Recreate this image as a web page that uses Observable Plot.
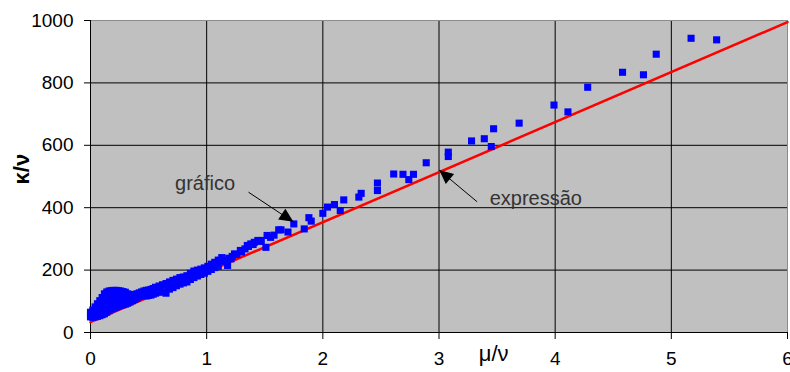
<!DOCTYPE html>
<html><head><meta charset="utf-8">
<script src="https://cdn.jsdelivr.net/npm/d3@7"></script>
<script src="https://cdn.jsdelivr.net/npm/@observablehq/plot@0.6"></script>
<style>body{margin:0;background:#fff} svg{display:block}</style>
</head><body><div id="chart"></div>
<script>
// upper edge of the dense band
const muUpper = [0.00,0.02,0.04,0.06,0.08,0.10,0.12,0.14,0.16,0.18,0.20,0.22,0.24,0.26,0.28,0.30,0.32,0.34,0.36,0.38,0.40,0.42,0.44,0.46,0.48,0.50,0.52,0.54,0.56,0.59,0.62,0.65,0.68,0.71,0.74,0.77,0.80,0.83,0.86,0.89,0.92,0.95,0.98,1.01,1.04,1.07,1.10];
const kappaUpper = [65,72,82,92,102,112,124,130,133,134,135,135,134,133,131,129,124,120,121,122,124,127,130,133,135,136,138,141,145,149,153,157,162,167,171,176,178,182,190,197,200,203,207,212,219,225,232];
// lower edge of the dense band
const muLower = [0.00,0.02,0.04,0.06,0.08,0.10,0.12,0.14,0.16,0.18,0.20,0.22,0.24,0.26,0.28,0.30,0.32,0.34,0.36,0.38,0.40,0.42,0.44,0.46,0.48,0.50,0.52,0.54,0.56,0.59,0.62,0.65,0.68,0.71,0.74,0.77,0.80,0.83,0.86,0.89,0.92,0.95,0.98,1.01,1.04,1.07,1.10];
const kappaLower = [50,49,50,52,54,57,60,65,70,75,78,81,84,87,89,91,94,98,102,106,110,115,118,120,117,119,120,123,126,129,131,126,139,144,150,155,159,162,170,176,181,186,190,196,202,208,212];
// inner points of the hump
const muMid = [0.00,0.03,0.06,0.09,0.12,0.15,0.18,0.21,0.24,0.27,0.30,0.33,0.06,0.09,0.12,0.15,0.18,0.21,0.24,0.27,0.30,0.33,0.04,0.07,0.10,0.13,0.16,0.19,0.22,0.25,0.28,0.31];
const kappaMid = [57,62,64,70,76,84,90,95,100,103,106,108,80,92,104,115,120,122,121,119,117,112,70,80,90,98,104,107,109,110,111,110];
// sparser points
const muSparse = [1.13,1.15,1.16,1.18,1.19,1.21,1.22,1.24,1.26,1.29,1.30,1.33,1.35,1.36,1.38,1.40,1.41,1.44,1.46,1.47,1.51,1.52,1.55,1.58,1.62,1.64,1.70,1.75,1.84,1.88,1.90,2.00,2.04,2.10,2.15,2.18,2.31,2.33,2.47,2.47,2.61,2.69,2.74,2.78,2.89,3.08,3.08,3.28,3.39,3.45,3.47,3.69,3.99,4.11,4.28,4.58,4.76,4.87,5.17,5.39];
const kappaSparse = [240,231,228,215,238,236,244,252,250,263,258,268,279,276,284,282,289,295,292,295,273,311,305,312,329,329,322,348,332,368,357,382,402,410,391,425,434,446,479,455,508,507,490,507,544,578,564,614,621,596,653,671,729,707,786,834,826,892,943,938];
// theoretical expression (red line)
const lineMu = [0, 6];
const lineKappa = [33, 995];
const xTicks = [0, 1, 2, 3, 4, 5, 6];
const yTicks = [0, 200, 400, 600, 800, 1000];
const noteLabels = ["gráfico", "expressão"];
const noteX = [0.728, 3.436];
const noteY = [478, 428];
const arrowX1 = [1.363, 3.325], arrowY1 = [449, 420];
const arrowX2 = [1.751, 3.006], arrowY2 = [353, 519];
const xLabel = "μ/ν", yLabel = "κ/ν";

const toPts = (ms, ks) => ms.map((m, i) => ({mu: m, kappa: ks[i]}));
const points = [
  ...toPts(muUpper, kappaUpper), ...toPts(muLower, kappaLower),
  ...toPts(muMid, kappaMid), ...toPts(muSparse, kappaSparse)
];
const redLine = toPts(lineMu, lineKappa);
const notes = noteLabels.map((t, i) => ({t, x: noteX[i], y: noteY[i]}));
const arrows = arrowX1.map((v, i) => ({x1: v, y1: arrowY1[i], x2: arrowX2[i], y2: arrowY2[i]}));

const plot = Plot.plot({
  width: 790, height: 372,
  marginLeft: 90, marginRight: 3, marginTop: 20, marginBottom: 40,
  x: {domain: [0, 6]}, y: {domain: [0, 1000]},
  style: {fontFamily: "'Liberation Sans', Arial, sans-serif", background: "#fff", color: "#000"},
  marks: [
    Plot.frame({fill: "#c0c0c0"}),
    Plot.ruleX(xTicks.slice(1, -1), {stroke: "#000", strokeWidth: 1}),
    Plot.ruleY(yTicks.slice(1, -1), {stroke: "#000", strokeWidth: 1}),
    Plot.frame({stroke: "#8c8c8c"}),
    Plot.ruleX([0], {stroke: "#000"}),
    Plot.ruleY([0], {stroke: "#000"}),
    Plot.axisY({ticks: yTicks, tickSize: 6, tickPadding: 11, fontSize: 19, label: null, tickFormat: d3.format("d")}),
    Plot.axisX({ticks: xTicks, tickSize: 7, tickPadding: 12, fontSize: 19, label: null, tickFormat: d3.format("d")}),
    Plot.line(redLine, {x: "mu", y: "kappa", stroke: "#ff0000", strokeWidth: 2.5}),
    Plot.dot(points, {x: "mu", y: "kappa", symbol: "square", r: 4, fill: "#0000ff"}),
    Plot.arrow(arrows, {x1: "x1", y1: "y1", x2: "x2", y2: "y2", stroke: "#000", strokeWidth: 1, headLength: 0}),
    Plot.text(notes, {x: "x", y: "y", text: "t", textAnchor: "start", fontSize: 20, fill: "#333"}),
    Plot.text([xLabel], {x: [3.47], frameAnchor: "bottom", dy: 28, text: d => d, fontSize: 22, fill: "#000"}),
    Plot.text([yLabel], {frameAnchor: "left", dx: -69, dy: 8, rotate: -90, text: d => d, fontSize: 22, fontWeight: "bold", fill: "#000"})
  ]
});
document.getElementById("chart").appendChild(plot);

// filled arrowheads positioned through the plot's own scales
const sx = plot.scale("x"), sy = plot.scale("y");
const svg = d3.select(plot);
arrows.forEach(a => {
  const ax = sx.apply(a.x1), ay = sy.apply(a.y1), bx = sx.apply(a.x2), by = sy.apply(a.y2);
  const ang = Math.atan2(by - ay, bx - ax), L = 14, W = 6.5;
  const cx = bx - L * Math.cos(ang), cy = by - L * Math.sin(ang);
  const px = -Math.sin(ang) * W, py = Math.cos(ang) * W;
  svg.append("polygon")
    .attr("points", `${bx},${by} ${cx + px},${cy + py} ${cx - px},${cy - py}`)
    .attr("fill", "#000");
});
</script></body></html>
